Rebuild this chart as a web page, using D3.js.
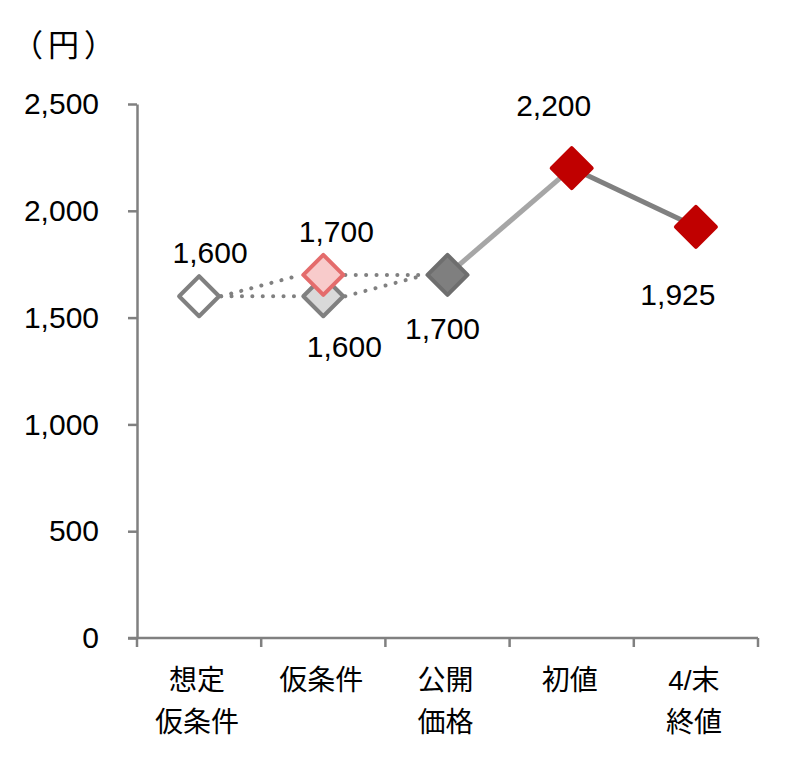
<!DOCTYPE html>
<html><head><meta charset="utf-8">
<script src="https://cdn.jsdelivr.net/npm/d3@7"></script>
<style>body{margin:0;background:#fff}</style></head>
<body><svg id="c" width="805" height="769"></svg>
<script>
const categories = ["想定\n仮条件", "仮条件", "公開\n価格", "初値", "4/末\n終値"];
const yTicks = [0, 500, 1000, 1500, 2000, 2500];
// points: category index, value
const pointCats = [0, 1, 1, 2, 3, 4];
const pointVals = [1600, 1600, 1700, 1700, 2200, 1925];
const pointKinds = ["open", "lightgray", "pink", "darkgray", "red", "red"];
// segments between points (indices into points)
const segFrom = [0, 0, 1, 2, 3, 4];
const segTo   = [1, 2, 3, 3, 4, 5];
const segKind = ["dot", "dot", "dot", "dot", "solidLight", "solidDark"];

const svg = d3.select("#c");
const font = "'Liberation Sans', Arial, 'Noto Sans CJK JP', sans-serif";
const x = d3.scaleBand().domain(d3.range(categories.length)).range([137, 758]);
const y = d3.scaleLinear().domain([0, 2500]).range([638, 104]);
const cx = i => x(i) + x.bandwidth() / 2;

// y axis
const ya = svg.append("g").attr("transform", "translate(137,0)")
  .call(d3.axisLeft(y).tickValues(yTicks).tickSize(9).tickSizeOuter(0).tickPadding(29)
    .tickFormat(d3.format(",")));
ya.select(".domain").attr("stroke", "#808080").attr("stroke-width", 2.5);
ya.selectAll(".tick line").attr("stroke", "#808080").attr("stroke-width", 2.5);
ya.selectAll(".tick text").attr("font-family", font).attr("font-size", 30).attr("fill", "#000");

// x axis
const xa = svg.append("g").attr("transform", "translate(0,638)");
xa.append("line").attr("x1", 128).attr("x2", 758).attr("y1", 0).attr("y2", 0)
  .attr("stroke", "#808080").attr("stroke-width", 2.5);
const edges = d3.range(categories.length + 1).map(i => i < categories.length ? x(i) : x(i - 1) + x.bandwidth());
xa.selectAll("line.t").data(edges).join("line").attr("class", "t")
  .attr("x1", d => d).attr("x2", d => d).attr("y1", 0).attr("y2", 9)
  .attr("stroke", "#808080").attr("stroke-width", 2.5);
categories.forEach((c, i) => {
  const lines = c.split("\n");
  const t = xa.append("text").attr("text-anchor", "middle").attr("font-family", font)
    .attr("font-size", 28).attr("fill", "#000");
  lines.forEach((l, j) => t.append("tspan").attr("x", cx(i) - 2).attr("y", 52 + j * 42).text(l));
});

// unit
svg.append("text").attr("x", 12).attr("y", 56).attr("letter-spacing", 5)
  .attr("font-family", "'Noto Sans CJK JP', sans-serif").attr("font-size", 31).text("（円）");

// segments
const segStyle = {
  dot: {stroke: "#808080", w: 4, dash: "0.1 10.3", cap: "round"},
  solidLight: {stroke: "#a6a6a6", w: 5, dash: null, cap: "butt"},
  solidDark: {stroke: "#808080", w: 5, dash: null, cap: "butt"}
};
segFrom.forEach((f, k) => {
  const s = segStyle[segKind[k]];
  const t = segTo[k];
  svg.append("line")
    .attr("x1", cx(pointCats[f]) + (s.dash ? 22 : 0)).attr("y1", y(pointVals[f]))
    .attr("x2", cx(pointCats[t]) - (s.dash ? 22 : 0)).attr("y2", y(pointVals[t]))
    .attr("stroke", s.stroke).attr("stroke-width", s.w)
    .attr("stroke-dasharray", s.dash).attr("stroke-linecap", s.cap);
});

// markers
const mStyle = {
  open: {fill: "#ffffff", stroke: "#808080"},
  lightgray: {fill: "#d9d9d9", stroke: "#808080"},
  pink: {fill: "#f8cbcb", stroke: "#e46c6c"},
  darkgray: {fill: "#7f7f7f", stroke: "#6e6e6e"},
  red: {fill: "#c00000", stroke: "#c00000"}
};
pointVals.forEach((v, i) => {
  const s = mStyle[pointKinds[i]];
  const px = cx(pointCats[i]), py = y(v), r = 20;
  svg.append("path")
    .attr("d", `M${px},${py - r}L${px + r},${py}L${px},${py + r}L${px - r},${py}Z`)
    .attr("fill", s.fill).attr("stroke", s.stroke).attr("stroke-width", 4)
    .attr("stroke-linejoin", "round");
});

// data labels (offset relative to marker)
const labDx = [11, 21, 13, -5, -18, -18];
const labDy = [-33, 61, -33, 64, -52, 78];
pointVals.forEach((v, i) => {
  svg.append("text").attr("x", cx(pointCats[i]) + labDx[i]).attr("y", y(v) + labDy[i])
    .attr("text-anchor", "middle").attr("font-family", font).attr("font-size", 30)
    .attr("fill", "#000").text(d3.format(",")(v));
});
</script></body></html>
